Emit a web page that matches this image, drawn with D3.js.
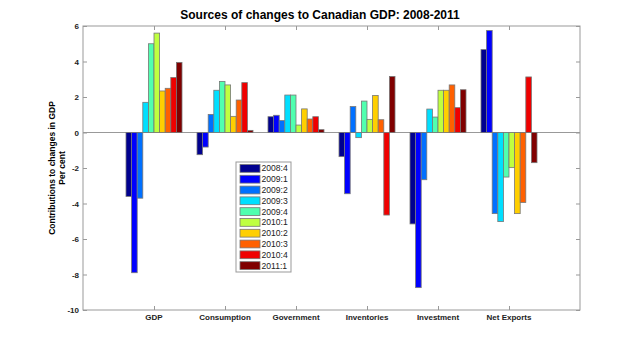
<!DOCTYPE html>
<html lang="en">
<head>
<meta charset="UTF-8">
<title>Sources of changes to Canadian GDP</title>
<script src="https://d3js.org/d3.v7.min.js"></script>
<style>
body { margin: 0; background: #fff; font-family: "Liberation Sans", Arial, Helvetica, sans-serif; }
</style>
</head>
<body>
<div id="chart"></div>
<script>
// categories, quarters and colours
var categories = ["GDP", "Consumption", "Government", "Inventories", "Investment", "Net Exports"];
var quarters = ["2008:4", "2009:1", "2009:2", "2009:3", "2009:4", "2010:1", "2010:2", "2010:3", "2010:4", "2011:1"];
var colors = ["#00008f", "#0000ff", "#0070ff", "#00dfff", "#50ffaf", "#bfff40", "#ffcf00", "#ff6000", "#ef0000", "#800000"];

// values per category, one per quarter
var gdp         = [-3.6, -7.9, -3.7, 1.7, 5.0, 5.6, 2.34, 2.49, 3.1, 3.95];
var consumption = [-1.25, -0.82, 1.02, 2.38, 2.88, 2.68, 0.91, 1.83, 2.81, 0.12];
var government  = [0.89, 0.97, 0.67, 2.11, 2.11, 0.42, 1.33, 0.76, 0.89, 0.16];
var inventories = [-1.36, -3.45, 1.46, -0.29, 1.77, 0.74, 2.09, 0.72, -4.65, 3.16];
var investment  = [-5.15, -8.74, -2.66, 1.32, 0.87, 2.38, 2.38, 2.68, 1.40, 2.41];
var netExports  = [4.67, 5.75, -4.57, -5.02, -2.51, -1.98, -4.57, -3.94, 3.13, -1.70];
var series = [gdp, consumption, government, inventories, investment, netExports];

var yTicks = [-10, -8, -6, -4, -2, 0, 2, 4, 6];

var W = 640, H = 348;
var pLeft = 83, pRight = 580, pTop = 26, pBottom = 310;

var svg = d3.select("#chart").append("svg")
  .attr("width", W).attr("height", H);

var x = d3.scaleLinear().domain([0, 7]).range([pLeft, pRight]);
var y = d3.scaleLinear().domain([-10, 6]).range([pBottom, pTop]);
var xs = d3.scaleBand().domain(quarters).range([-28, 28]).padding(0);

// axes box
svg.append("rect")
  .attr("x", pLeft).attr("y", pTop)
  .attr("width", pRight - pLeft).attr("height", pBottom - pTop)
  .attr("fill", "#fff").attr("stroke", "#999").attr("stroke-width", 1);

// zero line
svg.append("line")
  .attr("x1", pLeft).attr("x2", pRight)
  .attr("y1", y(0)).attr("y2", y(0))
  .attr("stroke", "#999").attr("stroke-width", 1);

// bars
var rows = [];
categories.forEach(function(c, i) {
  quarters.forEach(function(q, j) {
    rows.push({cat: i + 1, q: q, v: series[i][j], color: colors[j]});
  });
});

svg.selectAll("rect.bar")
  .data(rows)
  .enter().append("rect")
  .attr("class", "bar")
  .attr("x", function(d) { return x(d.cat) + xs(d.q); })
  .attr("width", xs.bandwidth())
  .attr("y", function(d) { return y(Math.max(0, d.v)); })
  .attr("height", function(d) { return Math.abs(y(d.v) - y(0)); })
  .attr("fill", function(d) { return d.color; })
  .attr("stroke", "#777")
  .attr("stroke-width", 0.8);

// ticks inside the box on all four sides
var yAxisL = svg.append("g")
  .attr("transform", "translate(" + pLeft + ",0)")
  .call(d3.axisRight(y).tickValues(yTicks).tickSize(4).tickFormat(""));
var yAxisR = svg.append("g")
  .attr("transform", "translate(" + pRight + ",0)")
  .call(d3.axisLeft(y).tickValues(yTicks).tickSize(4).tickFormat(""));
var xAxisB = svg.append("g")
  .attr("transform", "translate(0," + pBottom + ")")
  .call(d3.axisTop(x).tickValues(d3.range(1, 7)).tickSize(4).tickFormat(""));
var xAxisT = svg.append("g")
  .attr("transform", "translate(0," + pTop + ")")
  .call(d3.axisBottom(x).tickValues(d3.range(1, 7)).tickSize(4).tickFormat(""));
[yAxisL, yAxisR, xAxisB, xAxisT].forEach(function(a) {
  a.select(".domain").remove();
  a.selectAll("line").attr("stroke", "#999");
});

// tick labels
svg.selectAll("text.ylab")
  .data(yTicks)
  .enter().append("text")
  .attr("class", "ylab")
  .attr("x", pLeft - 4)
  .attr("y", function(d) { return y(d) + 3; })
  .attr("text-anchor", "end")
  .attr("font-size", "8px")
  .attr("font-weight", "bold")
  .attr("fill", "#222")
  .text(function(d) { return d; });

svg.selectAll("text.xlab")
  .data(categories)
  .enter().append("text")
  .attr("class", "xlab")
  .attr("x", function(d, i) { return x(i + 1); })
  .attr("y", pBottom + 10)
  .attr("text-anchor", "middle")
  .attr("font-size", "8px")
  .attr("font-weight", "bold")
  .attr("fill", "#222")
  .text(function(d) { return d; });

// title
svg.append("text")
  .attr("x", 320).attr("y", 19)
  .attr("text-anchor", "middle")
  .attr("font-size", "12px")
  .attr("font-weight", "bold")
  .text("Sources of changes to Canadian GDP: 2008-2011");

// y label
var yl = svg.append("text")
  .attr("transform", "translate(55," + ((pTop + pBottom) / 2) + ") rotate(-90)")
  .attr("text-anchor", "middle")
  .attr("font-size", "8.5px")
  .attr("font-weight", "bold");
yl.append("tspan").attr("x", 0).attr("dy", 0).text("Contributions to changes in GDP");
yl.append("tspan").attr("x", 0).attr("dy", 10).text("Per cent");

// legend
var lg = svg.append("g");
lg.append("rect")
  .attr("x", 236).attr("y", 162)
  .attr("width", 55).attr("height", 110)
  .attr("fill", "#fff").attr("stroke", "#999").attr("stroke-width", 1);
var ly = d3.scaleBand().domain(quarters).range([163, 271]);
lg.selectAll("rect.sw")
  .data(quarters)
  .enter().append("rect")
  .attr("class", "sw")
  .attr("x", 240)
  .attr("y", function(d) { return ly(d) + 1.5; })
  .attr("width", 20)
  .attr("height", ly.bandwidth() - 3)
  .attr("fill", function(d, i) { return colors[i]; })
  .attr("stroke", "#777").attr("stroke-width", 0.8);
lg.selectAll("text.lt")
  .data(quarters)
  .enter().append("text")
  .attr("class", "lt")
  .attr("x", 261.5)
  .attr("y", function(d) { return ly(d) + ly.bandwidth() / 2 + 3; })
  .attr("font-size", "8.6px")
  .attr("fill", "#222")
  .text(function(d) { return d; });
</script>
</body>
</html>
